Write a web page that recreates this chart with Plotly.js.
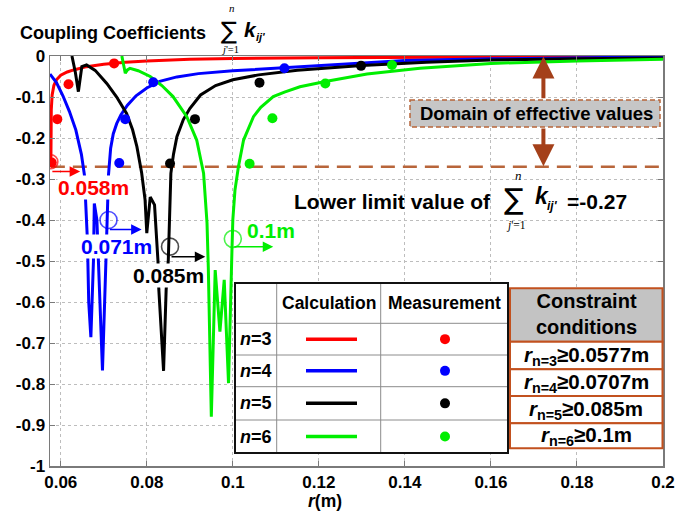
<!DOCTYPE html>
<html>
<head>
<meta charset="utf-8">
<script src="https://cdn.plot.ly/plotly-3.0.1.min.js"></script>
<style>html,body{margin:0;padding:0;background:#fff;}#chart{width:697px;height:512px;}</style>
</head>
<body>
<div id="chart"></div>
<script>
// ---------- DATA ----------
// Calculated curves (r in m, sum of coupling coefficients)
const r3X = [0.0577,0.05772,0.05775,0.0578,0.0580,0.0584,0.0590,0.0600,0.0615,0.0630,0.0660,0.0700,0.0750,0.0800,0.0900,0.1000,0.1200,0.1400,0.1600,0.1800,0.2000];
const r3Y = [-0.268,-0.22,-0.17,-0.13,-0.095,-0.072,-0.058,-0.047,-0.039,-0.034,-0.026,-0.020,-0.015,-0.012,-0.008,-0.006,-0.004,-0.003,-0.002,-0.0015,-0.001];

const r4X = [0.0575,0.0590,0.0605,0.0620,0.0635,0.0648,0.0655,0.0662,0.0665,0.0670,0.0676,0.0678,0.0684,0.0690,0.0697,0.0705,0.0711,0.0716,0.0722,0.0730,0.0740,0.0755,0.0775,0.0800,0.0830,0.0870,0.0920,0.1000,0.1120,0.1250,0.1400,0.1600,0.1800,0.2000];
const r4Y = [-0.044,-0.065,-0.097,-0.135,-0.180,-0.240,-0.290,-0.45,-0.60,-0.686,-0.50,-0.36,-0.40,-0.55,-0.767,-0.50,-0.290,-0.225,-0.190,-0.165,-0.143,-0.120,-0.097,-0.078,-0.062,-0.051,-0.043,-0.036,-0.029,-0.020,-0.011,-0.007,-0.004,-0.002];

const r5X = [0.0626,0.0634,0.0641,0.0649,0.0660,0.0680,0.0707,0.0730,0.0753,0.0767,0.0777,0.0788,0.0796,0.0800,0.0808,0.0818,0.0826,0.0828,0.0839,0.0845,0.0850,0.0853,0.0856,0.0862,0.0870,0.0885,0.0900,0.0925,0.0960,0.1000,0.1060,0.1150,0.1300,0.1450,0.1600,0.1800,0.2000];
const r5Y = [0.0,-0.04,-0.087,-0.026,-0.022,-0.035,-0.067,-0.100,-0.140,-0.180,-0.221,-0.285,-0.351,-0.432,-0.344,-0.363,-0.50,-0.570,-0.768,-0.570,-0.498,-0.350,-0.286,-0.240,-0.197,-0.155,-0.128,-0.095,-0.072,-0.058,-0.046,-0.035,-0.023,-0.015,-0.010,-0.007,-0.005];

const r6X = [0.0742,0.0746,0.0750,0.0755,0.0761,0.0780,0.0808,0.0835,0.0861,0.0893,0.0916,0.0932,0.0940,0.0943,0.0944,0.0950,0.0959,0.0970,0.0980,0.0990,0.0998,0.1000,0.1005,0.1013,0.1025,0.1048,0.1065,0.1094,0.1120,0.1156,0.1215,0.1312,0.1435,0.1600,0.1800,0.2000];
const r6Y = [0.0,-0.02,-0.042,-0.034,-0.030,-0.036,-0.050,-0.072,-0.099,-0.148,-0.205,-0.286,-0.407,-0.515,-0.567,-0.880,-0.522,-0.672,-0.546,-0.798,-0.473,-0.400,-0.327,-0.270,-0.205,-0.148,-0.125,-0.099,-0.088,-0.075,-0.062,-0.044,-0.030,-0.018,-0.012,-0.008];

// Measurements
const m3X = [0.0579,0.0592,0.0618,0.0724];
const m3Y = [-0.260,-0.154,-0.069,-0.018];
const m4X = [0.0736,0.0750,0.0815,0.1120];
const m4Y = [-0.261,-0.154,-0.064,-0.030];
const m5X = [0.0854,0.0912,0.1062,0.1298];
const m5Y = [-0.262,-0.154,-0.065,-0.024];
const m6X = [0.1039,0.1092,0.1215,0.1370];
const m6Y = [-0.263,-0.152,-0.067,-0.022];

// Lower limit and constraint points
const limitX = [0.0577, 0.2];
const limitY = [-0.27, -0.27];
const circX = [0.0577, 0.0711, 0.0854, 0.1000];
const circY = [-0.258, -0.400, -0.465, -0.446];
const circLabels = ['0.058m', '0.071m', '0.085m', '0.1m'];
const nLabels = ['3', '4', '5', '6'];
const constraintText = ['0.0577m', '0.0707m', '0.085m', '0.1m'];

// Tick labels
const xTickVals = [0.06,0.08,0.1,0.12,0.14,0.16,0.18,0.2];
const xTickText = ['0.06','0.08','0.1','0.12','0.14','0.16','0.18','0.2'];
const yTickVals = [0,-0.1,-0.2,-0.3,-0.4,-0.5,-0.6,-0.7,-0.8,-0.9,-1];
const yTickText = ['0','-0.1','-0.2','-0.3','-0.4','-0.5','-0.6','-0.7','-0.8','-0.9','-1'];

// ---------- STYLE ----------
const colors = ['#ff0000', '#0000ff', '#000000', '#00ee00'];
const brown = '#b8653a';
const darkBrown = '#a4401a';
const F = 'Liberation Sans, Arial, sans-serif';
const FS = 'Liberation Serif, Times New Roman, serif';

// pixel -> paper helpers (plot area 50..663 x 56..466)
const L = 50, R = 663, T = 56, B = 466;
const PX = p => (p - L) / (R - L);
const PY = p => (B - p) / (B - T);

const curves = [[r3X, r3Y], [r4X, r4Y], [r5X, r5Y], [r6X, r6Y]];
const meas = [[m3X, m3Y], [m4X, m4Y], [m5X, m5Y], [m6X, m6Y]];

const traces = [];
traces.push({x: limitX, y: limitY, mode: 'lines', line: {color: brown, width: 2.5, dash: '14px,8px'}, hoverinfo: 'skip'});
curves.forEach((c, i) => traces.push({x: c[0], y: c[1], mode: 'lines', line: {color: colors[i], width: 3}, hoverinfo: 'skip'}));
meas.forEach((m, i) => traces.push({x: m[0], y: m[1], mode: 'markers', marker: {color: colors[i], size: 10}, hoverinfo: 'skip'}));
traces.push({x: circX, y: circY, mode: 'markers',
  marker: {symbol: 'circle-open', size: [14, 17, 17, 17], color: colors, line: {width: 1.6, color: colors}}, hoverinfo: 'skip'});

const annotations = [];
function txt(text, x, y, size, opts) {
  annotations.push(Object.assign({text: text, xref: 'paper', yref: 'paper', x: PX(x), y: PY(y),
    showarrow: false, xanchor: 'center', yanchor: 'middle',
    font: {family: F, size: size, color: '#000'}}, opts || {}));
}
function arrow(x0, y0, x1, y1, color, w, sz) {
  annotations.push({text: '', xref: 'x', yref: 'y', axref: 'x', ayref: 'y', x: x1, y: y1, ax: x0, ay: y0,
    showarrow: true, arrowhead: 2, arrowsize: sz || 1.4, arrowwidth: w || 1.5, arrowcolor: color, standoff: 0, startstandoff: 0});
}

// Title
txt('<b>Coupling Coefficients</b>', 18, 33, 18, {xanchor: 'left'});
txt('∑', 229, 31, 24, {font: {family: 'DejaVu Sans', size: 24, color: '#000'}});
txt('<i>n</i>', 232, 8, 11, {font: {family: FS, size: 11, color: '#000'}});
txt('<i>j</i>\'=1', 230, 50, 10.5, {font: {family: FS, size: 10.5, color: '#000'}});
txt('<b><i>k</i></b>', 242, 30, 21, {xanchor: 'left'});
txt('<b><i>ij\'</i></b>', 254, 37, 11, {xanchor: 'left'});

// Lower limit text
txt('<b>Lower limit value of</b>', 292, 201, 21, {xanchor: 'left'});
txt('∑', 514, 199, 29, {font: {family: 'DejaVu Sans', size: 29, color: '#000'}});
txt('<i>n</i>', 518, 175, 13, {font: {family: FS, size: 13, color: '#000'}});
txt('<i>j</i>\'=1', 516, 225, 11.5, {font: {family: FS, size: 11.5, color: '#000'}});
txt('<b><i>k</i></b>', 533, 196, 23, {xanchor: 'left'});
txt('<b><i>ij\'</i></b>', 545, 206, 12, {xanchor: 'left'});
txt('<b>=-0.27</b>', 565, 201, 21, {xanchor: 'left'});

// Domain of effective values
const arrowX = 0.1722;
arrow(arrowX, -0.107, arrowX, -0.001, darkBrown, 4, 1.1);
arrow(arrowX, -0.173, arrowX, -0.269, darkBrown, 4, 1.1);
txt('<b>Domain of effective values</b>', 536, 113.5, 18.5);

// Constraint labels near the curves
const labelPos = [[93, 188], [116, 246.5], [168, 275], [271, 230]];
circLabels.forEach((t, i) => txt('<b>' + t + '</b>', labelPos[i][0], labelPos[i][1], 21,
  {font: {family: F, size: 21, color: colors[i]}, bgcolor: i === 3 ? 'rgba(0,0,0,0)' : '#ffffff', borderpad: 0}));
const arrowEnds = [[-0.282, 0.0645], [-0.423, 0.0788], [-0.4895, 0.0936], [-0.465, 0.1094]];
circX.forEach((cx, i) => arrow(cx, arrowEnds[i][0], arrowEnds[i][1], arrowEnds[i][0], colors[i], 1.5, 1.4));

// x-axis title
txt('<b><i>r</i>(m)</b>', 325, 501, 17.5);

// Legend table
const shapes = [];
const tL = 235, tR = 508, tT = 283;
const colX = [276.7, 380.7];
const rowY = [323.3, 355, 386.7, 420, 453];
shapes.push({type: 'rect', xref: 'paper', yref: 'paper', x0: PX(tL), x1: PX(tR), y0: PY(tT), y1: PY(rowY[4]), fillcolor: '#fff', line: {width: 0}, layer: 'above'});
colX.forEach(cx => shapes.push({type: 'line', xref: 'paper', yref: 'paper', x0: PX(cx), x1: PX(cx), y0: PY(tT), y1: PY(rowY[4]), line: {color: '#8c8c8c', width: 1}, layer: 'above'}));
rowY.slice(0, 4).forEach(ry => shapes.push({type: 'line', xref: 'paper', yref: 'paper', x0: PX(tL), x1: PX(tR), y0: PY(ry), y1: PY(ry), line: {color: '#8c8c8c', width: 1}, layer: 'above'}));
shapes.push({type: 'rect', xref: 'paper', yref: 'paper', x0: PX(tL), x1: PX(tR), y0: PY(tT), y1: PY(rowY[4]), line: {color: '#111', width: 2}, layer: 'above'});
txt('<b>Calculation</b>', (colX[0] + colX[1]) / 2, 303, 17.5);
txt('<b>Measurement</b>', (colX[1] + tR) / 2, 303, 17.5);
nLabels.forEach((n, i) => {
  const cy = (rowY[i] + rowY[i + 1]) / 2;
  txt('<b><i>n</i>=' + n + '</b>', (tL + colX[0]) / 2, cy, 18);
  shapes.push({type: 'line', xref: 'paper', yref: 'paper', x0: PX(306), x1: PX(357), y0: PY(cy), y1: PY(cy), line: {color: colors[i], width: 3.5}, layer: 'above'});
  shapes.push({type: 'circle', xref: 'paper', yref: 'paper', x0: PX(440), x1: PX(450), y0: PY(cy + 5), y1: PY(cy - 5), fillcolor: colors[i], line: {width: 0}, layer: 'above'});
});

// Constraint table
const cL = 510, cR = 662.5;
const cRows = [288.3, 341.7, 369.3, 396, 423.3, 448.3];
const cBorder = '#c2511f';
shapes.push({type: 'rect', xref: 'paper', yref: 'paper', x0: PX(cL), x1: PX(cR), y0: PY(cRows[0]), y1: PY(cRows[1]), fillcolor: '#c3c3c3', line: {color: cBorder, width: 2}, layer: 'above'});
txt('<b>Constraint<br>conditions</b>', (cL + cR) / 2, 314, 20);
constraintText.forEach((t, i) => {
  shapes.push({type: 'rect', xref: 'paper', yref: 'paper', x0: PX(cL), x1: PX(cR), y0: PY(cRows[i + 1]), y1: PY(cRows[i + 2]), fillcolor: '#fff', line: {color: cBorder, width: 2}, layer: 'above'});
  txt('<b><i>r</i><sub>n=' + nLabels[i] + '</sub>≥' + t + '</b>', (cL + cR) / 2, (cRows[i + 1] + cRows[i + 2]) / 2, 20.5);
});

// Domain box
shapes.push({type: 'rect', xref: 'paper', yref: 'paper', x0: PX(410), x1: PX(660), y0: PY(100), y1: PY(127), fillcolor: '#c6c6c6', line: {color: brown, width: 1.5, dash: '5px,3px'}, layer: 'above'});

const axisCommon = {showgrid: true, gridcolor: '#bdbdbd', griddash: 'dot', gridwidth: 1, showline: true, linecolor: '#7a7a7a', linewidth: 1.5,
  mirror: 'ticks', ticks: 'inside', ticklen: 5, tickcolor: '#7a7a7a', zeroline: false, fixedrange: true,
  tickfont: {family: F, size: 17, color: '#000', weight: 'bold'}, tickmode: 'array'};

const layout = {
  width: 697, height: 512,
  margin: {l: L, r: 697 - R, t: T, b: 512 - B, pad: 0},
  paper_bgcolor: '#fff', plot_bgcolor: '#fff',
  showlegend: false,
  xaxis: Object.assign({}, axisCommon, {range: [0.0575, 0.2], tickvals: xTickVals, ticktext: xTickText}),
  yaxis: Object.assign({}, axisCommon, {range: [-1, 0], tickvals: yTickVals, ticktext: yTickText}),
  annotations: annotations,
  shapes: shapes
};

Plotly.newPlot('chart', traces, layout, {displayModeBar: false, staticPlot: true});
</script>
</body>
</html>
